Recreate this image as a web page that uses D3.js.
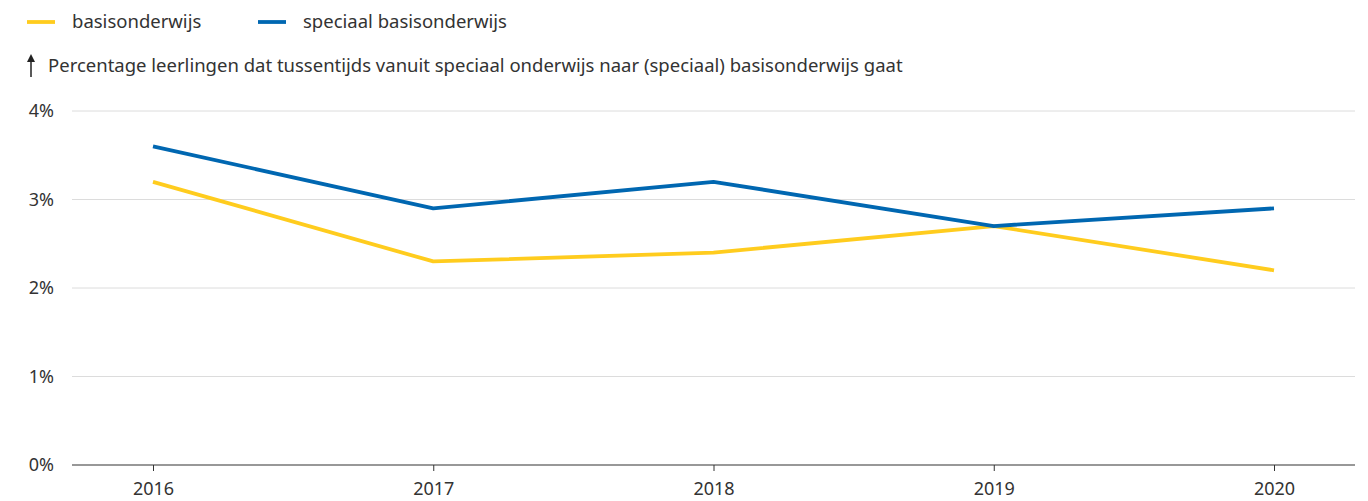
<!DOCTYPE html>
<html>
<head>
<meta charset="utf-8">
<script src="https://cdn.jsdelivr.net/npm/d3@7"></script>
<style>
  body { margin: 0; background: #fff; }
  text { font-family: "Noto Sans", sans-serif; fill: #333; }
</style>
</head>
<body>
<div id="chart"></div>
<script>
// Data
const years = [2016, 2017, 2018, 2019, 2020];
const basisonderwijs = [3.2, 2.3, 2.4, 2.7, 2.2];
const speciaalBasisonderwijs = [3.6, 2.9, 3.2, 2.7, 2.9];
const yTicks = [0, 1, 2, 3, 4];
const seriesNames = ["basisonderwijs", "speciaal basisonderwijs"];
const seriesColors = ["#ffcc1e", "#0067b1"];

const width = 1368;
const height = 501;

const svg = d3.select("#chart")
    .append("svg")
    .attr("width", width)
    .attr("height", height);

// Scales
const x = d3.scaleLinear()
    .domain([2016, 2020])
    .range([153, 1274]);

const y = d3.scaleLinear()
    .domain([0, 4])
    .range([465, 111]);

// Gridlines
svg.append("g")
    .selectAll("line")
    .data(yTicks.filter(d => d > 0))
    .enter()
    .append("line")
    .attr("x1", 72)
    .attr("x2", 1355)
    .attr("y1", d => y(d))
    .attr("y2", d => y(d))
    .attr("stroke", "#dcdcdc")
    .attr("stroke-width", 1);

// Y labels
svg.append("g")
    .selectAll("text")
    .data(yTicks)
    .enter()
    .append("text")
    .attr("x", 54)
    .attr("y", d => y(d) + 6)
    .attr("text-anchor", "end")
    .style("font-size", "18px")
    .text(d => d + "%");

// X axis
const xAxis = d3.axisBottom(x)
    .tickValues(years)
    .tickFormat(d3.format("d"))
    .tickSize(6)
    .tickSizeOuter(0);

const xg = svg.append("g")
    .attr("transform", `translate(0,${y(0)})`)
    .call(xAxis);
xg.select(".domain").remove();
xg.selectAll(".tick line").attr("stroke", "#333");
xg.selectAll(".tick text")
    .attr("y", 17)
    .style("font-size", "18px")
    .style("font-family", "'Noto Sans', sans-serif")
    .attr("fill", "#333");
svg.append("line")
    .attr("x1", 72)
    .attr("x2", 1355)
    .attr("y1", y(0))
    .attr("y2", y(0))
    .attr("stroke", "#333")
    .attr("stroke-width", 1.2);

// Lines
const line = d3.line()
    .x((d, i) => x(years[i]))
    .y(d => y(d));

[basisonderwijs, speciaalBasisonderwijs].forEach((values, i) => {
    svg.append("path")
        .datum(values)
        .attr("d", line)
        .attr("fill", "none")
        .attr("stroke", seriesColors[i])
        .attr("stroke-width", 3.8)
        .attr("stroke-linejoin", "round");
});

// Legend
const legendX = [27, 258];
seriesNames.forEach((name, i) => {
    const g = svg.append("g").attr("transform", `translate(${legendX[i]},22)`);
    g.append("line")
        .attr("x1", 0).attr("x2", 28)
        .attr("y1", 0).attr("y2", 0)
        .attr("stroke", seriesColors[i])
        .attr("stroke-width", 3.8);
    g.append("text")
        .attr("x", 45)
        .attr("y", 6)
        .style("font-size", "18.5px")
        .text(name);
});

// Axis title with arrow
svg.append("line")
    .attr("x1", 31).attr("x2", 31)
    .attr("y1", 77).attr("y2", 59)
    .attr("stroke", "#222")
    .attr("stroke-width", 1.5);
svg.append("path")
    .attr("d", "M31,54 L27,62 L35,62 Z")
    .attr("fill", "#222");
svg.append("text")
    .attr("x", 48)
    .attr("y", 72)
    .style("font-size", "18.5px")
    .text("Percentage leerlingen dat tussentijds vanuit speciaal onderwijs naar (speciaal) basisonderwijs gaat");
</script>
</body>
</html>
